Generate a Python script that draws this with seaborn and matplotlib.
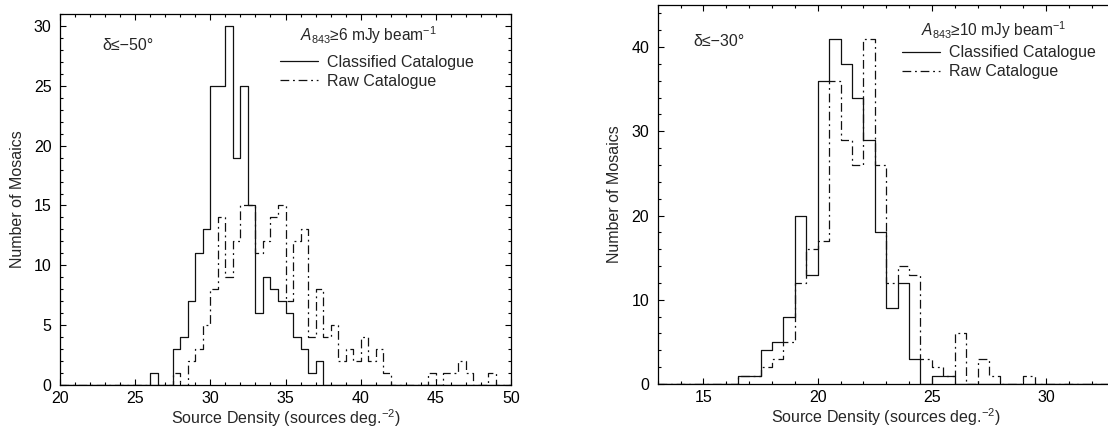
import numpy as np
import pandas as pd
import matplotlib
matplotlib.use("Agg")
import matplotlib.pyplot as plt
from matplotlib.lines import Line2D
from matplotlib.ticker import MultipleLocator
import seaborn as sns

# ---------------- data (counts per 0.5 bin) ----------------
bin_width = 0.5

# Left panel: delta <= -50, A843 >= 6 mJy/beam
left_range = (20.0, 50.0)
left_class_start = 26.0
left_class_counts = [1, 0, 0, 3, 4, 7, 11, 13, 25, 25, 30, 19, 25, 15, 6, 9, 8, 7,
                     6, 4, 3, 1, 2]
left_raw_start = 27.5
left_raw_counts = [1, 0, 2, 3, 5, 8, 14, 9, 12, 15, 15, 11, 12, 14, 15, 7, 12, 13,
                   4, 8, 4, 5, 2, 3, 2, 4, 2, 3, 1, 0, 0, 0, 0, 0, 1, 0, 1, 1,
                   2, 1, 0, 0, 1]

# Right panel: delta <= -30, A843 >= 10 mJy/beam
right_range = (13.0, 33.0)
right_class_start = 16.5
right_class_counts = [1, 1, 4, 5, 8, 20, 13, 36, 41, 38, 34, 29, 18, 9, 12, 3, 0,
                      1, 1]
right_raw_start = 16.5
right_raw_counts = [1, 1, 2, 3, 5, 12, 16, 17, 36, 29, 26, 41, 26, 12, 14, 13, 3,
                    2, 1, 6, 0, 3, 1, 0, 0, 1]

labels = ["Classified Catalogue", "Raw Catalogue"]
xlabel = "Source Density (sources deg.$^{-2}$)"
ylabel = "Number of Mosaics"
left_dec = "δ≤−50°"
right_dec = "δ≤−30°"
left_thr = r"$\mathit{A}_{843}$≥6 mJy beam$^{-1}$"
right_thr = r"$\mathit{A}_{843}$≥10 mJy beam$^{-1}$"

# ---------------- style ----------------
FS = 11.5
sns.set_style("ticks")
plt.rcParams["font.family"] = ["Liberation Sans", "DejaVu Sans"]
plt.rcParams["mathtext.fontset"] = "custom"
plt.rcParams["mathtext.rm"] = "Liberation Sans"
plt.rcParams["mathtext.it"] = "Liberation Sans:italic"
plt.rcParams["mathtext.sf"] = "Liberation Sans"
plt.rcParams["font.size"] = FS

DASHDOT = (0, (7, 3, 1.5, 3))
LW = 0.9
COL = "#111111"


def full_hist(rng, start, counts):
    n = int(round((rng[1] - rng[0]) / bin_width))
    centers = rng[0] + bin_width * (np.arange(n) + 0.5)
    weights = np.zeros(n)
    i0 = int(round((start - rng[0]) / bin_width))
    weights[i0:i0 + len(counts)] = counts
    return pd.DataFrame({"density": centers, "count": weights})


def draw(ax, rng, cstart, ccounts, rstart, rcounts):
    df = full_hist(rng, cstart, ccounts)
    sns.histplot(data=df, x="density", weights="count", binwidth=bin_width,
                 binrange=rng, element="step", fill=False, color=COL,
                 linewidth=LW, ax=ax)
    df = full_hist(rng, rstart, rcounts)
    sns.histplot(data=df, x="density", weights="count", binwidth=bin_width,
                 binrange=rng, element="step", fill=False, color=COL,
                 linewidth=LW, linestyle=DASHDOT, ax=ax)


W, H = 1108, 433
fig = plt.figure(figsize=(W / 100, H / 100), dpi=100)


def add_axes(l, t, r, b):
    return fig.add_axes([l / W, (H - b) / H, (r - l) / W, (b - t) / H])


axL = add_axes(60, 14, 511, 385)
axR = add_axes(657.7, 5, 657.7 + 20 * 22.85, 384)

draw(axL, left_range, left_class_start, left_class_counts,
     left_raw_start, left_raw_counts)
draw(axR, right_range, right_class_start, right_class_counts,
     right_raw_start, right_raw_counts)

axL.set_xlim(*left_range)
axL.set_ylim(0, 31)
axR.set_xlim(*right_range)
axR.set_ylim(0, 45)

axL.xaxis.set_major_locator(MultipleLocator(5))
axL.xaxis.set_minor_locator(MultipleLocator(1))
axL.yaxis.set_major_locator(MultipleLocator(5))
axL.yaxis.set_minor_locator(MultipleLocator(1))
axR.xaxis.set_major_locator(MultipleLocator(5))
axR.xaxis.set_minor_locator(MultipleLocator(1))
axR.yaxis.set_major_locator(MultipleLocator(10))
axR.yaxis.set_minor_locator(MultipleLocator(2))

for ax in (axL, axR):
    for sp in ax.spines.values():
        sp.set_visible(True)
        sp.set_linewidth(0.9)
        sp.set_color("black")
    ax.tick_params(which="both", direction="in", top=True, right=True,
                   width=0.8, colors="black", labelsize=FS)
    ax.tick_params(which="major", length=4.5)
    ax.tick_params(which="minor", length=2.5)
    ax.tick_params(axis="y", which="both", pad=6)
    ax.tick_params(axis="x", which="both", pad=4)
    ax.set_xlabel(xlabel, fontsize=FS, labelpad=1)
    ax.set_ylabel(ylabel, fontsize=FS, labelpad=6.5)
    ax.set_facecolor("white")

# annotations
axL.text(0.095, 0.916, left_dec, transform=axL.transAxes, fontsize=FS,
         ha="left", va="center")
axL.text(0.532, 0.943, left_thr, transform=axL.transAxes, fontsize=11.2,
         ha="left", va="center")
axR.text(0.077, 0.903, right_dec, transform=axR.transAxes, fontsize=FS,
         ha="left", va="center")
axR.text(0.577, 0.934, right_thr, transform=axR.transAxes, fontsize=11.2,
         ha="left", va="center")

handles = [Line2D([], [], color=COL, lw=LW),
           Line2D([], [], color=COL, lw=LW, linestyle=DASHDOT)]
for ax, anchor in ((axL, (0.488, 0.890)), (axR, (0.534, 0.894))):
    ax.legend(handles, labels, loc="upper left", bbox_to_anchor=anchor,
              frameon=False, borderaxespad=0, borderpad=0, handlelength=2.4,
              handletextpad=0.56, labelspacing=0.26, fontsize=FS)

fig.savefig("out.png", dpi=100, facecolor="white")
